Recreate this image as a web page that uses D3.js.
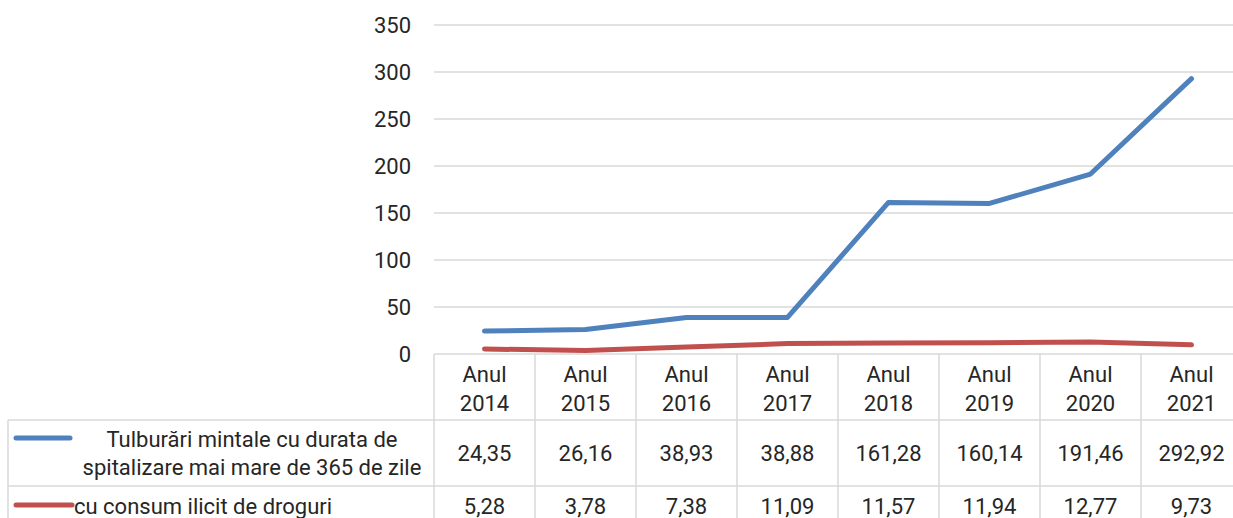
<!DOCTYPE html>
<html>
<head>
<meta charset="utf-8">
<script src="https://cdn.jsdelivr.net/npm/d3@7"></script>
<style>
  html, body { margin: 0; padding: 0; background: #fff; }
  svg { display: block; font-family: Roboto, "Liberation Sans", sans-serif; }
</style>
</head>
<body>
<div id="chart"></div>
<script>
const years = ["2014", "2015", "2016", "2017", "2018", "2019", "2020", "2021"];
const yTicks = [0, 50, 100, 150, 200, 250, 300, 350];
const mentalValues = [24.35, 26.16, 38.93, 38.88, 161.28, 160.14, 191.46, 292.92];
const drugValues = [5.28, 3.78, 7.38, 11.09, 11.57, 11.94, 12.77, 9.73];
const seriesNames = [
  ["Tulburări mintale cu durata de", "spitalizare mai mare de 365 de zile"],
  ["cu consum ilicit de droguri"]
];
const seriesColors = ["#4f81bd", "#c0504d"];

const width = 1233, height = 518;
const plot = {left: 434, right: 1242, top: 25, bottom: 354};
const tableLeft = 8;
const rowLines = [354, 420, 486, 540];
const gridColor = "#d9d9d9";
const textColor = "#262626";
const fontSize = 22;
const fmt = (v) => v.toFixed(2).replace(".", ",");

const svg = d3.select("#chart").append("svg")
  .attr("width", width)
  .attr("height", height);

const x = d3.scaleBand().domain(years).range([plot.left, plot.right]);
const y = d3.scaleLinear().domain([0, 350]).range([plot.bottom, plot.top]);

// gridlines
svg.append("g")
  .selectAll("line")
  .data(yTicks.slice(1))
  .join("line")
  .attr("x1", plot.left)
  .attr("x2", width)
  .attr("y1", (d) => y(d))
  .attr("y2", (d) => y(d))
  .attr("stroke", gridColor)
  .attr("stroke-width", 1.5);

// y axis labels
svg.append("g")
  .selectAll("text")
  .data(yTicks)
  .join("text")
  .attr("x", 411)
  .attr("y", (d) => y(d))
  .attr("dy", "0.35em")
  .attr("text-anchor", "end")
  .attr("font-size", fontSize)
  .attr("fill", textColor)
  .text((d) => d);

// table grid
const tableG = svg.append("g").attr("stroke", gridColor).attr("stroke-width", 1.5);
tableG.append("line")
  .attr("x1", plot.left).attr("x2", width)
  .attr("y1", rowLines[0]).attr("y2", rowLines[0]);
tableG.selectAll("line.hrow")
  .data(rowLines.slice(1, 3))
  .join("line")
  .attr("class", "hrow")
  .attr("x1", tableLeft).attr("x2", width)
  .attr("y1", (d) => d).attr("y2", (d) => d);
tableG.append("line")
  .attr("x1", tableLeft).attr("x2", tableLeft)
  .attr("y1", rowLines[1]).attr("y2", height);
tableG.selectAll("line.vcol")
  .data(years)
  .join("line")
  .attr("class", "vcol")
  .attr("x1", (d) => x(d)).attr("x2", (d) => x(d))
  .attr("y1", rowLines[0]).attr("y2", height);

// header
const header = svg.append("g")
  .selectAll("text")
  .data(years)
  .join("text")
  .attr("text-anchor", "middle")
  .attr("font-size", fontSize)
  .attr("fill", textColor);
header.append("tspan").attr("x", (d) => x(d) + x.bandwidth() / 2).attr("y", 382).text("Anul");
header.append("tspan").attr("x", (d) => x(d) + x.bandwidth() / 2).attr("y", 411).text((d) => d);

// values rows
[mentalValues, drugValues].forEach((vals, i) => {
  const cy = i === 0 ? 453 : 506;
  svg.append("g")
    .selectAll("text")
    .data(vals)
    .join("text")
    .attr("x", (d, j) => x(years[j]) + x.bandwidth() / 2)
    .attr("y", cy)
    .attr("dy", "0.35em")
    .attr("text-anchor", "middle")
    .attr("font-size", fontSize)
    .attr("fill", textColor)
    .text((d) => fmt(d));
});

// legend keys in table
svg.append("line")
  .attr("x1", 16).attr("x2", 70)
  .attr("y1", 438).attr("y2", 438)
  .attr("stroke", seriesColors[0]).attr("stroke-width", 5)
  .attr("stroke-linecap", "round");
svg.append("text")
  .attr("text-anchor", "middle")
  .attr("font-size", fontSize)
  .attr("fill", textColor)
  .selectAll("tspan")
  .data(seriesNames[0])
  .join("tspan")
  .attr("x", 252)
  .attr("y", (d, i) => 447 + i * 28)
  .text((d) => d);

svg.append("line")
  .attr("x1", 16).attr("x2", 72)
  .attr("y1", 505).attr("y2", 505)
  .attr("stroke", seriesColors[1]).attr("stroke-width", 5)
  .attr("stroke-linecap", "round");
svg.append("text")
  .attr("x", 74)
  .attr("y", 506)
  .attr("dy", "0.35em")
  .attr("font-size", fontSize)
  .attr("fill", textColor)
  .text(seriesNames[1][0]);

// lines
const line = d3.line()
  .x((d, i) => x(years[i]) + x.bandwidth() / 2)
  .y((d) => y(d));

[mentalValues, drugValues].forEach((vals, i) => {
  svg.append("path")
    .datum(vals)
    .attr("fill", "none")
    .attr("stroke", seriesColors[i])
    .attr("stroke-width", 5)
    .attr("stroke-linecap", "round")
    .attr("stroke-linejoin", "round")
    .attr("d", line);
});
</script>
</body>
</html>
